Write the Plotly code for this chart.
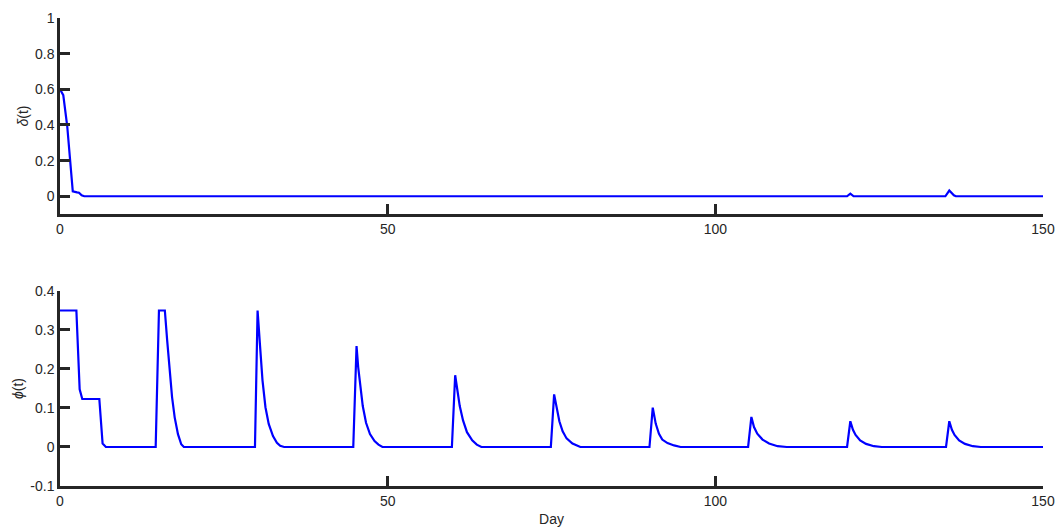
import plotly.graph_objects as go

# ---- data ----
delta_t = [0, 0.5, 1.1, 1.5, 1.95, 2.6, 2.9, 3.3, 3.7,
           120.1, 120.6, 121.1,
           135.1, 135.7, 136.4, 136.7, 150]
delta_v = [0.6, 0.567, 0.394, 0.225, 0.028, 0.022, 0.020, 0.005, 0,
           0, 0.015, 0,
           0, 0.032, 0.005, 0, 0]

phi_t = [0, 2.5, 3.0, 3.4, 6.0, 6.5, 7.0,
         14.6, 15.1, 16.0, 16.35, 16.75, 17.1, 17.5, 18.0, 18.5, 18.9,
         29.75, 30.15, 30.5, 30.9, 31.35, 31.85, 32.5, 33.1, 33.6, 34.2,
         44.75, 45.25, 45.5, 45.8, 46.2, 46.7, 47.3, 48.0, 48.6, 49.2,
         59.8, 60.3, 60.6, 61.0, 61.5, 62.1, 62.9, 63.6, 64.3,
         74.9, 75.4, 75.8, 76.2, 76.7, 77.3, 78.2, 79.4,
         89.95, 90.45, 90.9, 91.4, 91.9, 92.7, 93.7, 94.7,
         105.0, 105.5, 105.9, 106.4, 107.2, 108.2, 109.5, 110.9,
         120.1, 120.6, 121.0, 121.4, 122.1, 123.0, 124.2, 125.4,
         135.2, 135.7, 136.1, 136.5, 137.2, 138.1, 139.3, 140.5,
         150]
phi_v = [0.35, 0.35, 0.148, 0.123, 0.123, 0.009, 0,
         0, 0.35, 0.35, 0.274, 0.188, 0.128, 0.076, 0.033, 0.007, 0,
         0, 0.35, 0.265, 0.171, 0.102, 0.059, 0.028, 0.011, 0.003, 0,
         0, 0.259, 0.205, 0.155, 0.105, 0.062, 0.033, 0.015, 0.006, 0,
         0, 0.184, 0.145, 0.105, 0.068, 0.038, 0.017, 0.006, 0,
         0, 0.135, 0.097, 0.066, 0.040, 0.022, 0.009, 0,
         0, 0.101, 0.060, 0.034, 0.019, 0.010, 0.004, 0,
         0, 0.077, 0.051, 0.034, 0.019, 0.009, 0.002, 0,
         0, 0.066, 0.044, 0.031, 0.017, 0.008, 0.002, 0,
         0, 0.066, 0.044, 0.031, 0.017, 0.008, 0.002, 0,
         0]

x_ticks = [0, 50, 100, 150]
top_y_ticks = [0, 0.2, 0.4, 0.6, 0.8, 1]
top_y_text = ["0", "0.2", "0.4", "0.6", "0.8", "1"]
bot_y_ticks = [-0.1, 0, 0.1, 0.2, 0.3, 0.4]
bot_y_text = ["-0.1", "0", "0.1", "0.2", "0.3", "0.4"]

AX = "#262626"
FONT = "Liberation Sans, Arial, sans-serif"

fig = go.Figure()
fig.add_trace(go.Scatter(x=delta_t, y=delta_v, mode="lines",
                         line=dict(color="#0000FF", width=2.2),
                         xaxis="x", yaxis="y", showlegend=False, hoverinfo="skip"))
fig.add_trace(go.Scatter(x=phi_t, y=phi_v, mode="lines",
                         line=dict(color="#0000FF", width=2.2),
                         xaxis="x2", yaxis="y2", showlegend=False, hoverinfo="skip"))

axis_common = dict(showline=True, linecolor=AX, linewidth=2.5, ticks="inside",
                   ticklen=10, tickwidth=2.5, tickcolor=AX, showgrid=False,
                   zeroline=False, mirror=False, automargin=False,
                   tickfont=dict(family=FONT, size=14, color=AX))

fig.update_layout(
    width=1058, height=528,
    margin=dict(l=60, r=15, t=18, b=42),
    paper_bgcolor="white", plot_bgcolor="white",
    font=dict(family=FONT, size=14, color=AX),
    xaxis=dict(domain=[0, 1], range=[0, 150], tickvals=x_ticks, anchor="y",
               ticktext=[str(v) for v in x_ticks], **axis_common),
    yaxis=dict(domain=[0.581, 1.0], range=[-0.1, 1], tickvals=top_y_ticks,
               ticktext=top_y_text, anchor="x",
               title=dict(text="<i>δ</i>(t)", font=dict(family=FONT, size=14, color=AX), standoff=4),
               **axis_common),
    xaxis2=dict(domain=[0, 1], range=[0, 150], tickvals=x_ticks, anchor="y2",
                ticktext=[str(v) for v in x_ticks],
                title=dict(text="Day", font=dict(family=FONT, size=14, color=AX), standoff=7),
                **axis_common),
    yaxis2=dict(domain=[0, 0.4167], range=[-0.1, 0.4], tickvals=bot_y_ticks,
                ticktext=bot_y_text, anchor="x2",
                title=dict(text="<i>ϕ</i>(t)", font=dict(family=FONT, size=14, color=AX), standoff=4),
                **axis_common),
)

fig.write_html("out.html")
